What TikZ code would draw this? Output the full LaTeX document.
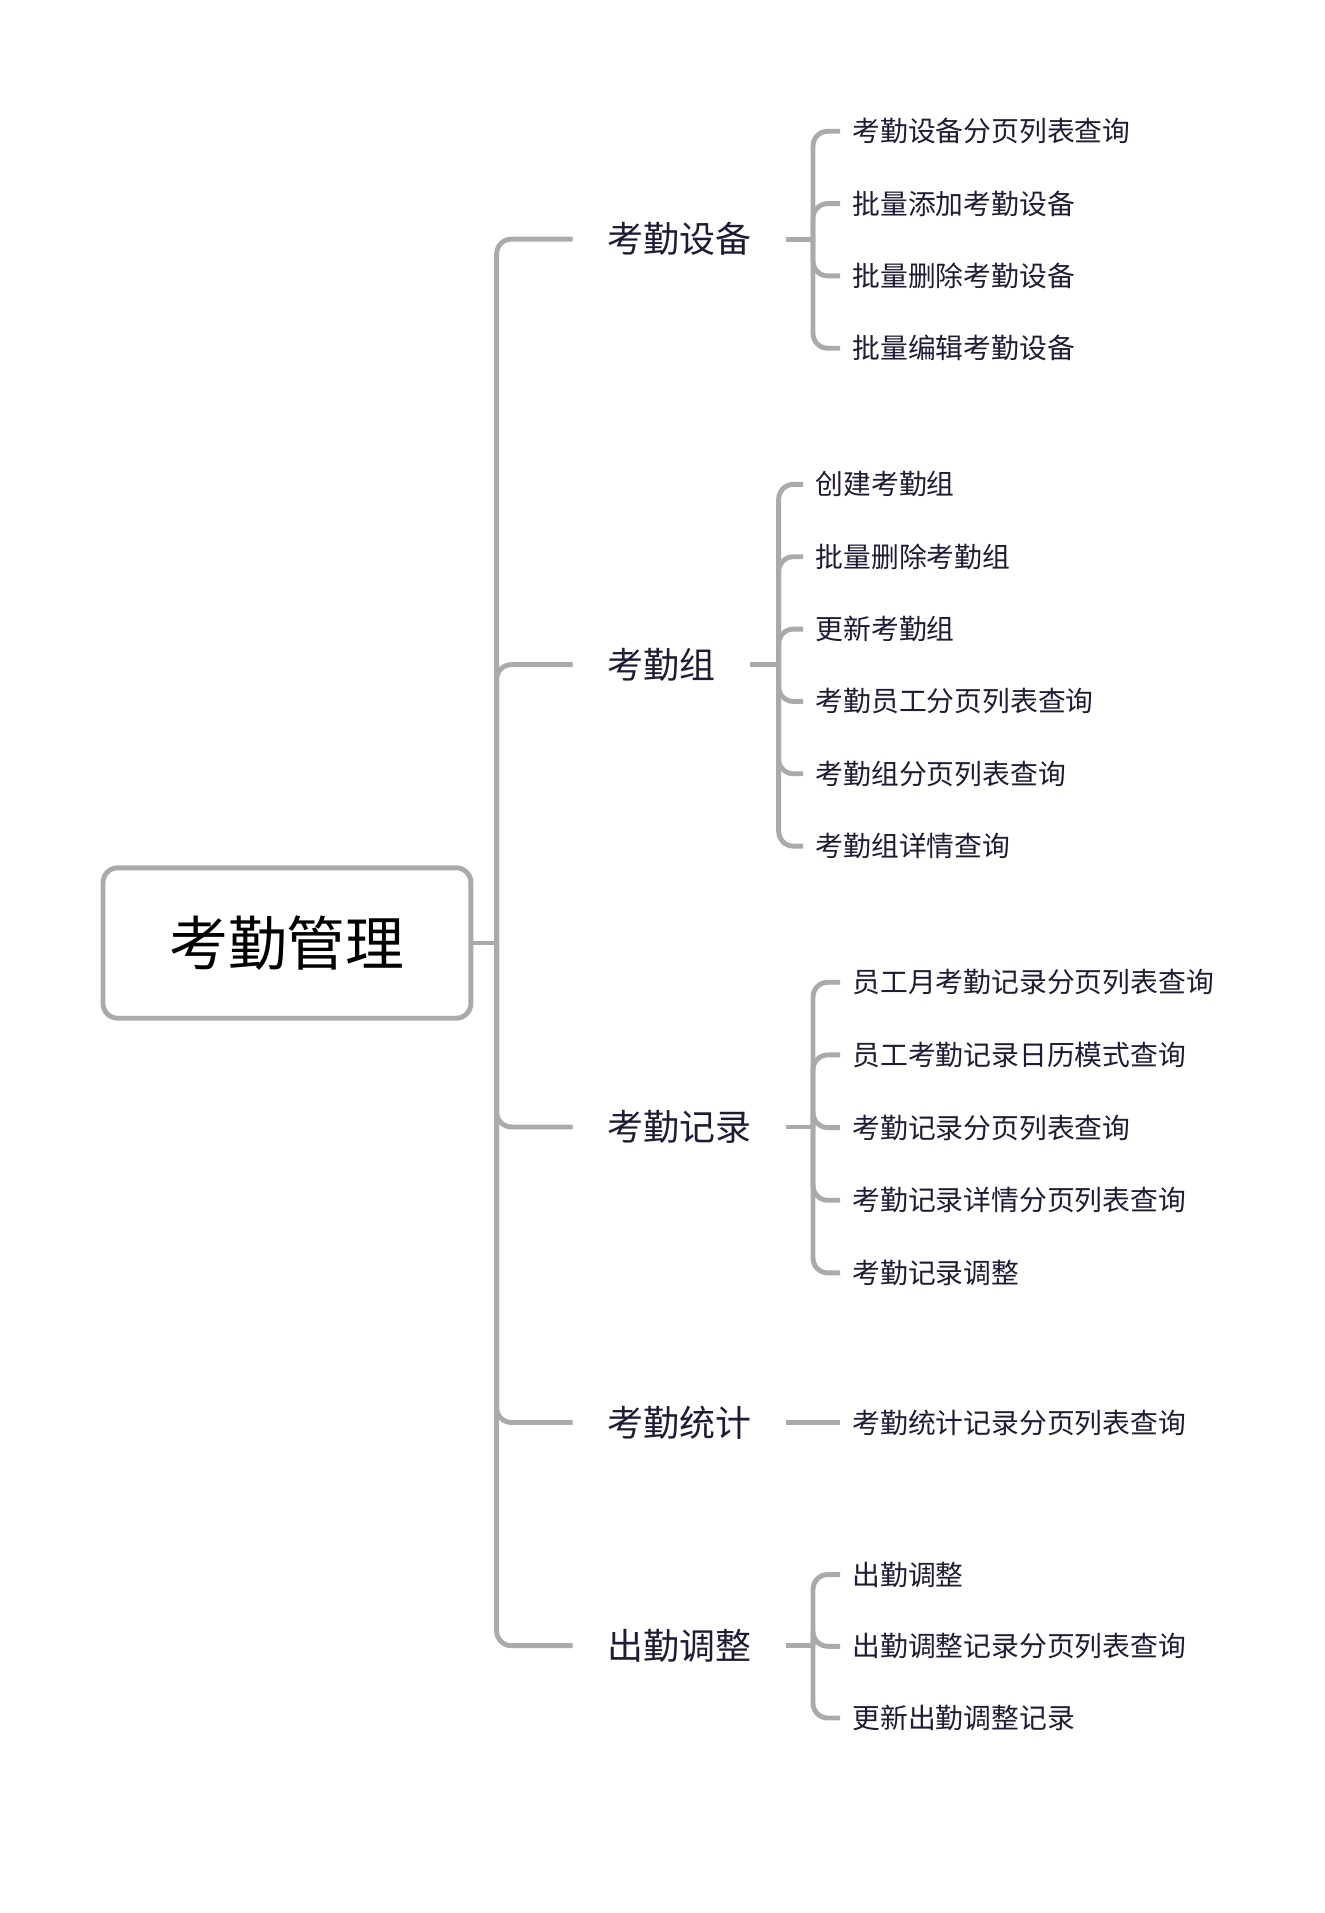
\documentclass[tikz,border=0pt]{standalone}
\usepackage{fontspec}
\setmainfont{Noto Sans CJK SC}
\usepackage{tikz}
\definecolor{linegray}{HTML}{AAAAAA}
\definecolor{textnavy}{HTML}{1C1C36}

\tikzset{
  conn/.style={draw=linegray, line width=3pt, rounded corners=9pt},
  rootbox/.style={draw=linegray, line width=3pt, rounded corners=9pt, minimum width=225pt, minimum height=92pt, text=black, font=\fontsize{36}{40}\selectfont},
  branch/.style={anchor=west, inner xsep=21pt, inner ysep=0pt, text=textnavy, font=\fontsize{22}{26}\selectfont},
  leaf/.style={anchor=west, inner xsep=7.5pt, inner ysep=0pt, text=textnavy, font=\fontsize{17}{20}\selectfont},
}

\begin{document}
\begin{tikzpicture}[x=0.75pt,y=-0.75pt]
\useasboundingbox (0,0) rectangle (1080,1560);

% Root
\node[rootbox] (root) at (234,769) {考勤管理};
\coordinate (trunk) at (405,769);
\draw[conn] (root.east) -- (trunk);

% Branches
\node[branch] (b1) at (467,195) {考勤设备};
\node[branch] (b2) at (467,542) {考勤组};
\node[branch] (b3) at (467,919) {考勤记录};
\node[branch] (b4) at (467,1160) {考勤统计};
\node[branch] (b5) at (467,1342) {出勤调整};

\foreach \b in {b1,b2,b3,b4,b5}
  \draw[conn] (trunk) |- (\b.west);

% Leaves of b1
\foreach \t [count=\i] in {考勤设备分页列表查询,批量添加考勤设备,批量删除考勤设备,批量编辑考勤设备}
  \node[leaf] (l1\i) at (685,{107+59*(\i-1)}) {\t};
% Leaves of b2
\foreach \t [count=\i] in {创建考勤组,批量删除考勤组,更新考勤组,考勤员工分页列表查询,考勤组分页列表查询,考勤组详情查询}
  \node[leaf] (l2\i) at (655,{395+59*(\i-1)}) {\t};
% Leaves of b3
\foreach \t [count=\i] in {员工月考勤记录分页列表查询,员工考勤记录日历模式查询,考勤记录分页列表查询,考勤记录详情分页列表查询,考勤记录调整}
  \node[leaf] (l3\i) at (685,{801+59.25*(\i-1)}) {\t};
% Leaf of b4
\node[leaf] (l41) at (685,1160) {考勤统计记录分页列表查询};
% Leaves of b5
\foreach \t [count=\i] in {出勤调整,出勤调整记录分页列表查询,更新出勤调整记录}
  \node[leaf] (l5\i) at (685,{1284+58.5*(\i-1)}) {\t};

% Brackets
\coordinate (k1) at (663,195);
\coordinate (k2) at (635,542);
\coordinate (k3) at (663,919);
\coordinate (k5) at (663,1342);
\draw[conn] (b1.east) -- (k1);
\draw[conn] (b2.east) -- (k2);
\draw[conn] (b3.east) -- (k3);
\draw[conn] (b5.east) -- (k5);
\draw[conn] (b4.east) -- (l41.west);
\foreach \i in {1,...,4} \draw[conn] (k1) |- (l1\i.west);
\foreach \i in {1,...,6} \draw[conn] (k2) |- (l2\i.west);
\foreach \i in {1,...,5} \draw[conn] (k3) |- (l3\i.west);
\foreach \i in {1,...,3} \draw[conn] (k5) |- (l5\i.west);
\end{tikzpicture}
\end{document}
